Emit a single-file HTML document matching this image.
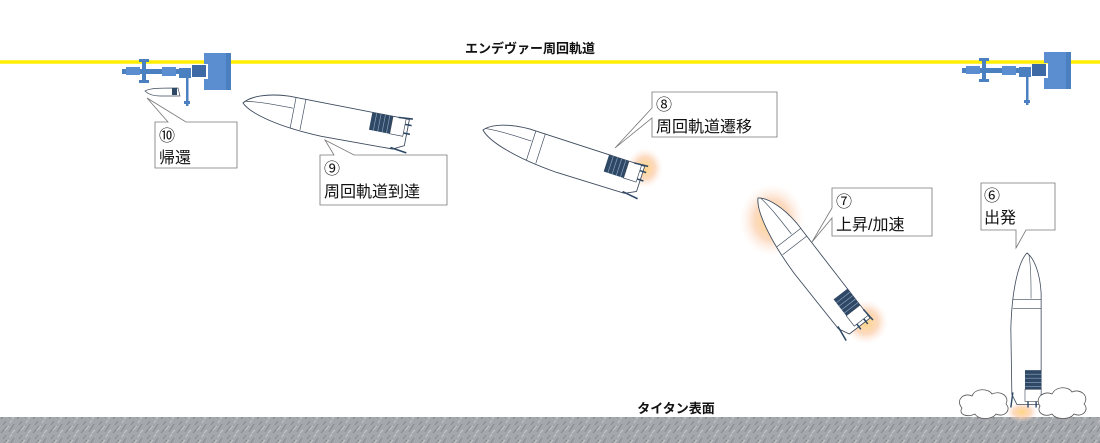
<!DOCTYPE html>
<html><head><meta charset="utf-8"><style>
html,body{margin:0;padding:0;background:#fff;}
svg{display:block;}
text{font-family:"Liberation Sans","Noto Sans CJK JP",sans-serif;}
</style></head><body>
<svg width="1100" height="443" viewBox="0 0 1100 443" xmlns="http://www.w3.org/2000/svg">
<defs>
<pattern id="rock" width="16" height="14" patternUnits="userSpaceOnUse">
<rect width="16" height="14" fill="#a4a7ab"/>
<path d="M1,13 L7,6 M9,12 L14,4 M3,5 L6,1" stroke="#868a8f" stroke-width="1"/>
<path d="M5,10 L9,6 M12,13 L15,10 M10,3 L12,0" stroke="#c6c8cb" stroke-width="1"/>
</pattern>
<radialGradient id="glow" cx="50%" cy="50%" r="50%">
<stop offset="0" stop-color="#ffd27a" stop-opacity="0.95"/>
<stop offset="0.55" stop-color="#fbcba6" stop-opacity="0.7"/>
<stop offset="1" stop-color="#fde5dc" stop-opacity="0"/>
</radialGradient>
<g id="rocket">
<path d="M0,0 C-8,8 -15,35 -16,75 L-15,140 L-10,150 L14,150 L14,40 C13,20 7,5 0,0Z" fill="#fff" stroke="#3c4a5c" stroke-width="0.8"/>
<path d="M2,2 C4,15 4,30 4,45" fill="none" stroke="#3c4a5c" stroke-width="0.6"/>
<path d="M-14,46 L14,46 M-14,55 L14,55" stroke="#3c4a5c" stroke-width="0.6"/>
<rect x="-2" y="116" width="16" height="19" fill="#2e4865"/>
<path d="M-2,120 H14 M-2,124 H14 M-2,128 H14 M-2,132 H14" stroke="#8fa6c0" stroke-width="0.6"/>
<rect x="-2" y="135" width="16" height="12" fill="#fff" stroke="#3c4a5c" stroke-width="0.6"/>
<path d="M-14,138 L-16,153 M14,140 L15,153 M1,147 L1,153 M9,147 L9,153" stroke="#2e4865" stroke-width="1.4"/>
</g>
<g id="station">
<rect x="0" y="-2" width="60" height="5" fill="#4a7fc0"/>
<rect x="4" y="-4" width="14" height="8" fill="#5b8ed0"/>
<rect x="20" y="-10" width="4" height="20" fill="#4a7fc0"/>
<rect x="17" y="-12" width="10" height="3" fill="#4a7fc0"/>
<rect x="17" y="9" width="10" height="3" fill="#4a7fc0"/>
<rect x="40" y="-4" width="14" height="9" fill="#5b8ed0"/>
<rect x="57" y="-3" width="12" height="10" fill="#4a7fc0"/>
<rect x="70" y="-6" width="14" height="12" fill="#3d6aa5"/>
<rect x="64" y="3" width="2.5" height="32" fill="#4a7fc0"/>
<rect x="62" y="30" width="6" height="3" fill="#4a7fc0"/>
<rect x="82" y="-18" width="22" height="11" fill="#5b8ed0"/>
<rect x="82" y="8" width="22" height="11" fill="#5b8ed0"/>
<rect x="86" y="-8" width="22" height="17" fill="#5b8ed0"/>
<rect x="104" y="-18" width="5" height="37" fill="#4a7fc0"/>
</g>
</defs>

<rect x="0" y="417" width="1100" height="26" fill="url(#rock)"/>

<line x1="0" y1="62" x2="1100" y2="62" stroke="#ffee00" stroke-width="3.5"/>
<text x="530" y="53" font-size="13" font-weight="bold" text-anchor="middle" fill="#111">エンデヴァー周回軌道</text>
<text x="676" y="413" font-size="13" font-weight="bold" text-anchor="middle" fill="#111">タイタン表面</text>

<use href="#station" x="122" y="71"/>
<use href="#station" x="962" y="70"/>

<path d="M145,91 C150,88 160,88 178,88 L180,96 L160,96 C152,96 148,94 145,91Z" fill="#fff" stroke="#3c4a5c" stroke-width="0.7"/>
<rect x="172" y="88" width="5" height="7" fill="#2e4865"/>

<ellipse cx="772" cy="220" rx="32" ry="36" fill="url(#glow)"/>
<ellipse cx="866" cy="322" rx="22" ry="22" fill="url(#glow)"/>
<ellipse cx="645" cy="168" rx="18" ry="20" fill="url(#glow)"/>
<ellipse cx="1022" cy="412" rx="16" ry="10" fill="url(#glow)"/>

<g transform="translate(243,103) rotate(-79) scale(1.11)"><use href="#rocket"/></g>
<g transform="translate(483,130) rotate(-72) scale(1.1)"><use href="#rocket"/></g>
<g transform="translate(758,198) rotate(-37.7) scale(1.09)"><use href="#rocket"/></g>
<g transform="translate(1027,253) scale(1.01)"><use href="#rocket"/></g>

<g fill="#fff" stroke="#555" stroke-width="0.8">
<path d="M962,408 C955,400 964,392 972,396 C975,388 988,388 992,394 C1000,390 1010,396 1006,404 C1012,410 1004,418 996,414 C992,420 978,420 975,414 C966,418 958,414 962,408Z"/>
<path d="M1040,406 C1034,398 1044,390 1052,394 C1056,386 1068,386 1072,392 C1080,388 1090,396 1084,404 C1090,410 1082,418 1074,414 C1070,420 1056,420 1052,414 C1044,418 1036,412 1040,406Z"/>
</g>

<g fill="#fff" stroke="#777" stroke-width="0.8">
<path d="M155,122 H168 L147,98 L186,122 H237 V168 H155Z"/>
<path d="M320,155 H334 L325,140 L354,155 H447 V205 H320Z"/>
<path d="M652,92 H777 V137 H652 V118 L615,148 L652,108Z"/>
<path d="M832,188 H932 V236 H832 V218 L812,242 L832,208Z"/>
<path d="M981,183 H1055 V230 H1026 L1016,248 L1016,230 H981Z"/>
</g>
<g font-size="16" fill="#111">
<text x="159" y="141">⑩</text><text x="159" y="163">帰還</text>
<text x="324" y="174">⑨</text><text x="324" y="197">周回軌道到達</text>
<text x="656" y="110">⑧</text><text x="656" y="132">周回軌道遷移</text>
<text x="836" y="207">⑦</text><text x="836" y="230">上昇/加速</text>
<text x="984" y="201">⑥</text><text x="984" y="223">出発</text>
</g>
</svg>
</body></html>
